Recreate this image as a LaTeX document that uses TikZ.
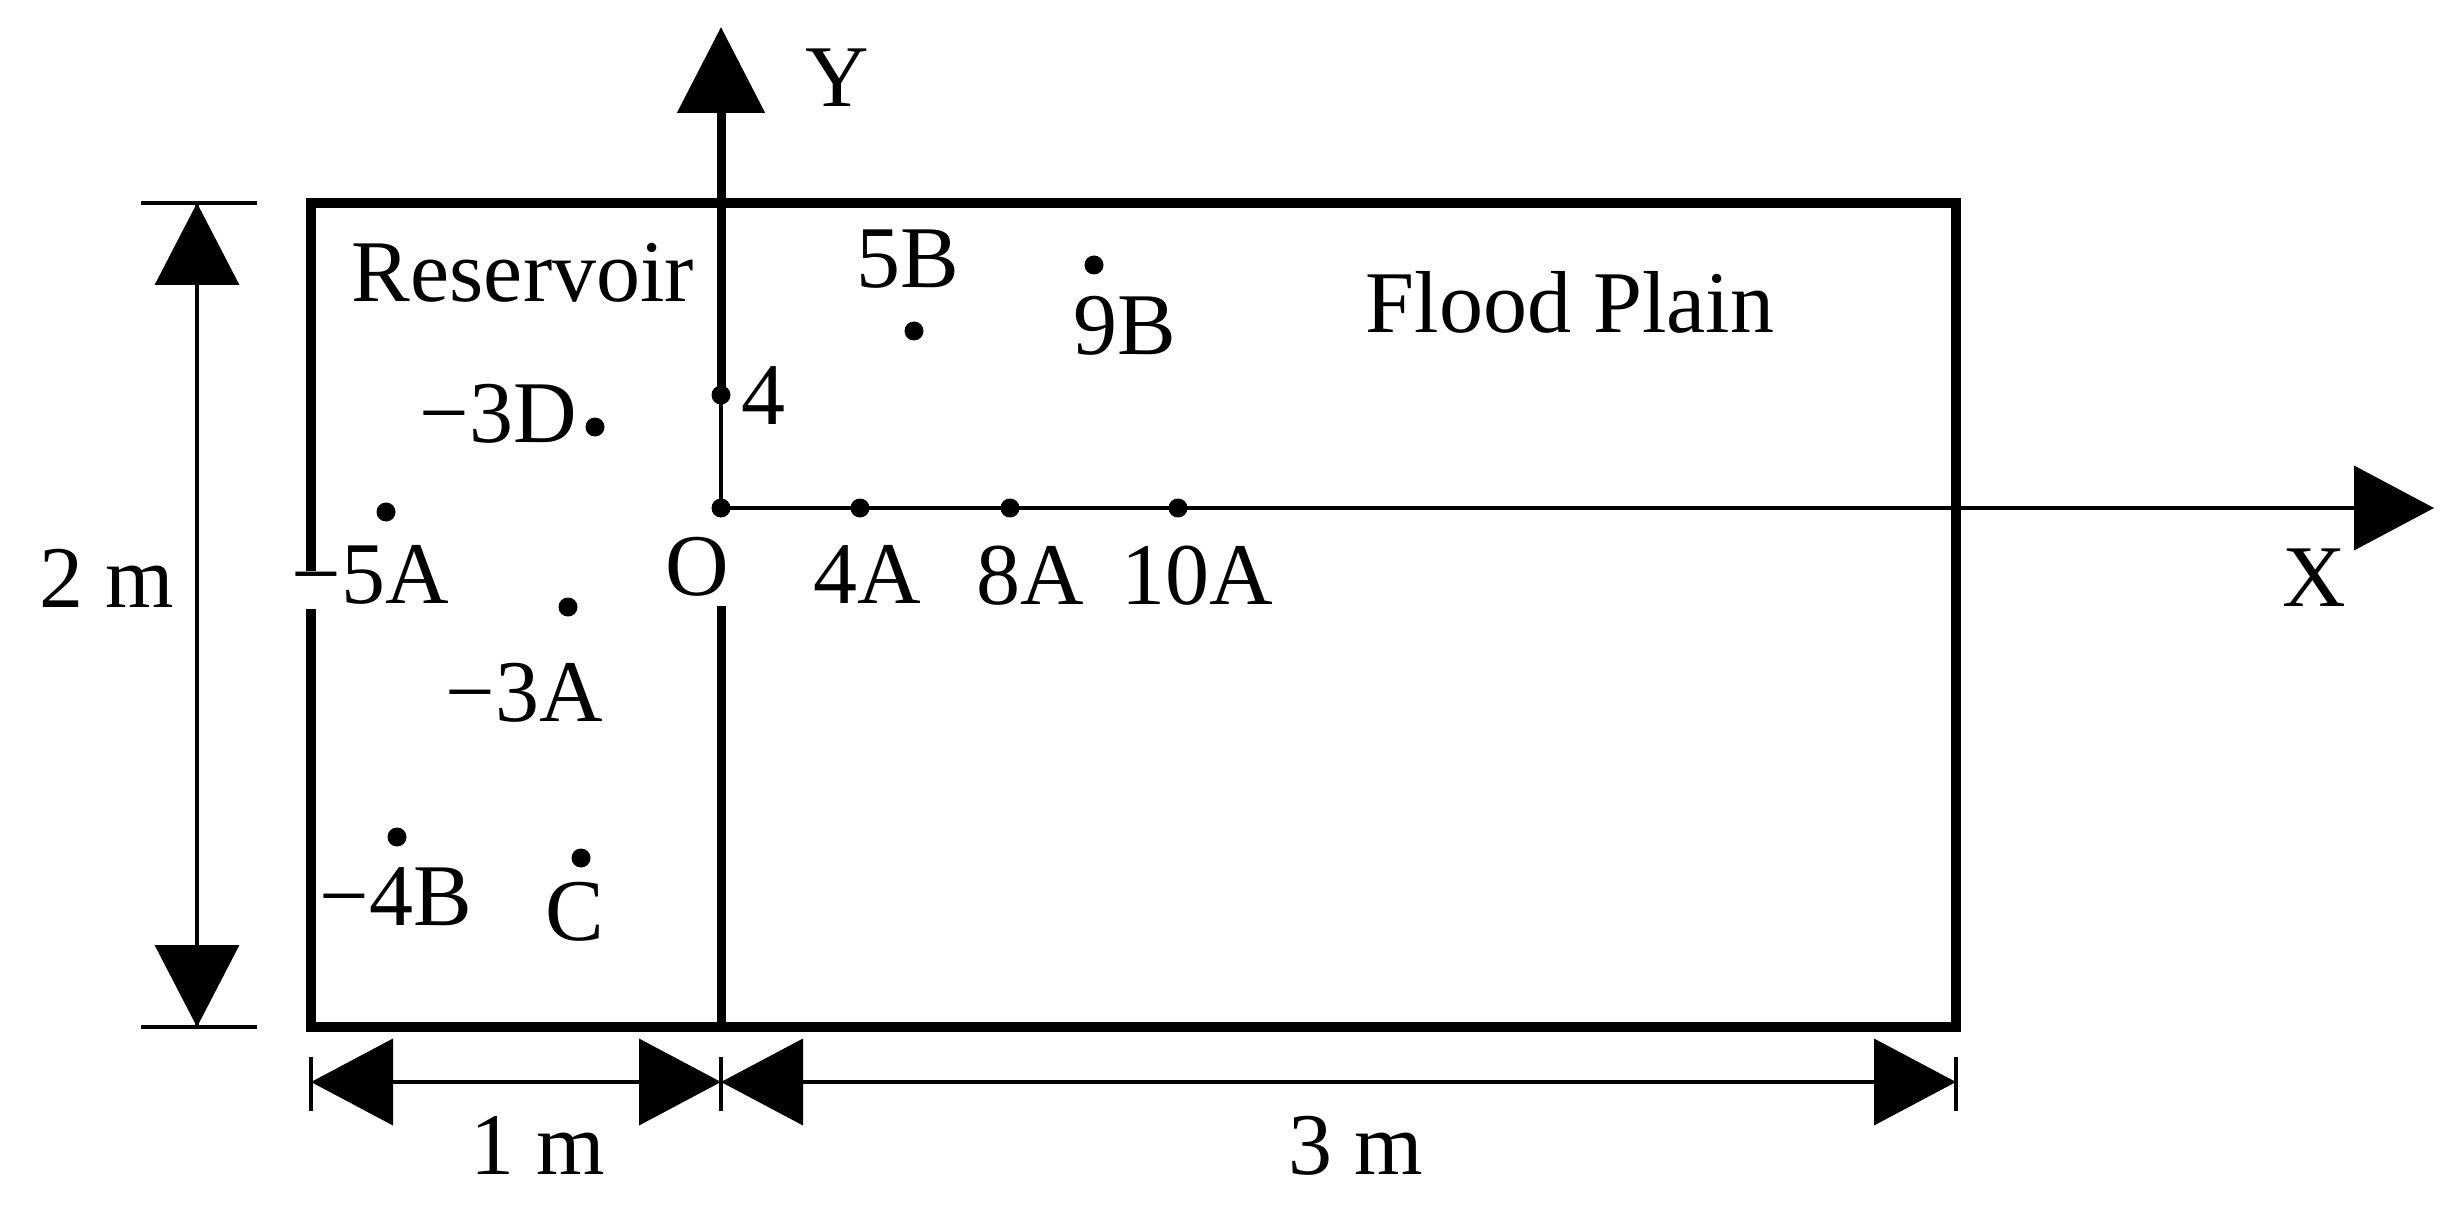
\documentclass[tikz,border=0pt]{standalone}
\usepackage{fontspec}
\setmainfont{Liberation Serif}
\usetikzlibrary{arrows.meta}
\tikzset{
  lbl/.style={anchor=base,inner sep=0pt,outer sep=0pt,font=\fontsize{88}{88}\selectfont},
  dot/.style={circle,fill=black,draw=none,inner sep=0pt,minimum size=19pt},
  wall/.style={line width=9.5pt,line cap=butt,line join=miter},
  axiswall/.style={line width=9pt,line cap=butt},
  thin line/.style={line width=3.5pt},
  dim line/.style={line width=4pt},
  headv/.style={-{Triangle[length=82pt,width=84pt]}},
  headh/.style={-{Triangle[length=82pt,width=86pt]}},
  heady/.style={-{Triangle[length=86pt,width=86pt]}},
  headx/.style={-{Triangle[length=80pt,width=84pt]}}
}
\begin{document}
\begin{tikzpicture}[x=1pt,y=-1pt]
\useasboundingbox (0,0) rectangle (2462,1214);
% corners and ends
\coordinate (tl) at (311,203);
\coordinate (tr) at (1956,203);
\coordinate (br) at (1956,1027);
\coordinate (bl) at (311,1027);
\coordinate (gapA) at (311,571);
\coordinate (gapB) at (311,609);
\coordinate (ytip) at (721,27);
\coordinate (xtip) at (2434,508);
\coordinate (ylow) at (721,606);
\coordinate (ybot) at (721,1027);
\coordinate (vt) at (197,203);
\coordinate (vb) at (197,1027);
\coordinate (vtA) at (141,203);
\coordinate (vtB) at (257,203);
\coordinate (vbA) at (141,1027);
\coordinate (vbB) at (257,1027);
\coordinate (hm) at (516,1082);
\coordinate (hm2) at (1340,1082);
\coordinate (h1) at (311,1082);
\coordinate (h2) at (721,1082);
\coordinate (h3) at (1956,1082);
\coordinate (h1a) at (311,1057);
\coordinate (h1b) at (311,1111);
\coordinate (h2a) at (721,1057);
\coordinate (h2b) at (721,1111);
\coordinate (h3a) at (1956,1057);
\coordinate (h3b) at (1956,1111);
% points
\node[dot] (p4) at (721,395) {};
\node[dot] (pO) at (721,508) {};
\node[dot] (p4A) at (860,508) {};
\node[dot] (p8A) at (1010,508) {};
\node[dot] (p10A) at (1178,508) {};
\node[dot] (p5B) at (914,331) {};
\node[dot] (p9B) at (1094,265) {};
\node[dot] (p3D) at (595,427) {};
\node[dot] (p5A) at (386,512) {};
\node[dot] (p3A) at (568,607) {};
\node[dot] (p4B) at (397,837) {};
\node[dot] (pC) at (581,858) {};
% walls
\draw[wall] (gapA) -- (tl) -- (tr) -- (br) -- (bl) -- (gapB);
\draw[axiswall] (ylow) -- (ybot);
% axes
\draw[axiswall,heady] (p4.center) -- (ytip);
\draw[thin line] (p4.center) -- (pO.center);
\draw[dim line,headx] (pO.center) -- (xtip);
% dimension 2 m
\draw[thin line] (vtA) -- (vtB);
\draw[thin line] (vbA) -- (vbB);
\draw[thin line,headv] (vb) -- (vt);
\draw[thin line,headv] (vt) -- (vb);
% dimensions 1 m, 3 m
\draw[thin line] (h1a) -- (h1b);
\draw[thin line] (h2a) -- (h2b);
\draw[thin line] (h3a) -- (h3b);
\draw[dim line,headh] (hm) -- (h1);
\draw[dim line,headh] (hm) -- (h2);
\draw[dim line,headh] (hm2) -- (h2);
\draw[dim line,headh] (hm2) -- (h3);
% labels
\node[lbl] (ly) at (837,107) {Y};
\node[lbl] (lx) at (2314,606) {X};
\node[lbl] (lres) at (523,302) {Reservoir};
\node[lbl] (lfp) at (1570,333) {Flood Plain};
\node[lbl] (l5b) at (908,288) {5B};
\node[lbl] (l9b) at (1125,355) {9B};
\node[lbl] (l4) at (763,424) {4};
\node[lbl] (l3d) at (498,442) {−3D};
\node[lbl] (l5a) at (370,603) {−5A};
\node[lbl] (lo) at (697,595) {O};
\node[lbl] (l4a) at (867,603) {4A};
\node[lbl] (l8a) at (1030,604) {8A};
\node[lbl] (l10a) at (1197,604) {10A};
\node[lbl] (l3a) at (524,721) {−3A};
\node[lbl] (l4bb) at (396,925) {−4B};
\node[lbl] (lc) at (575,940) {C};
\node[lbl] (l2m) at (107,607) {2 m};
\node[lbl] (l1m) at (538,1174) {1 m};
\node[lbl] (l3m) at (1356,1174) {3 m};
\end{tikzpicture}
\end{document}
